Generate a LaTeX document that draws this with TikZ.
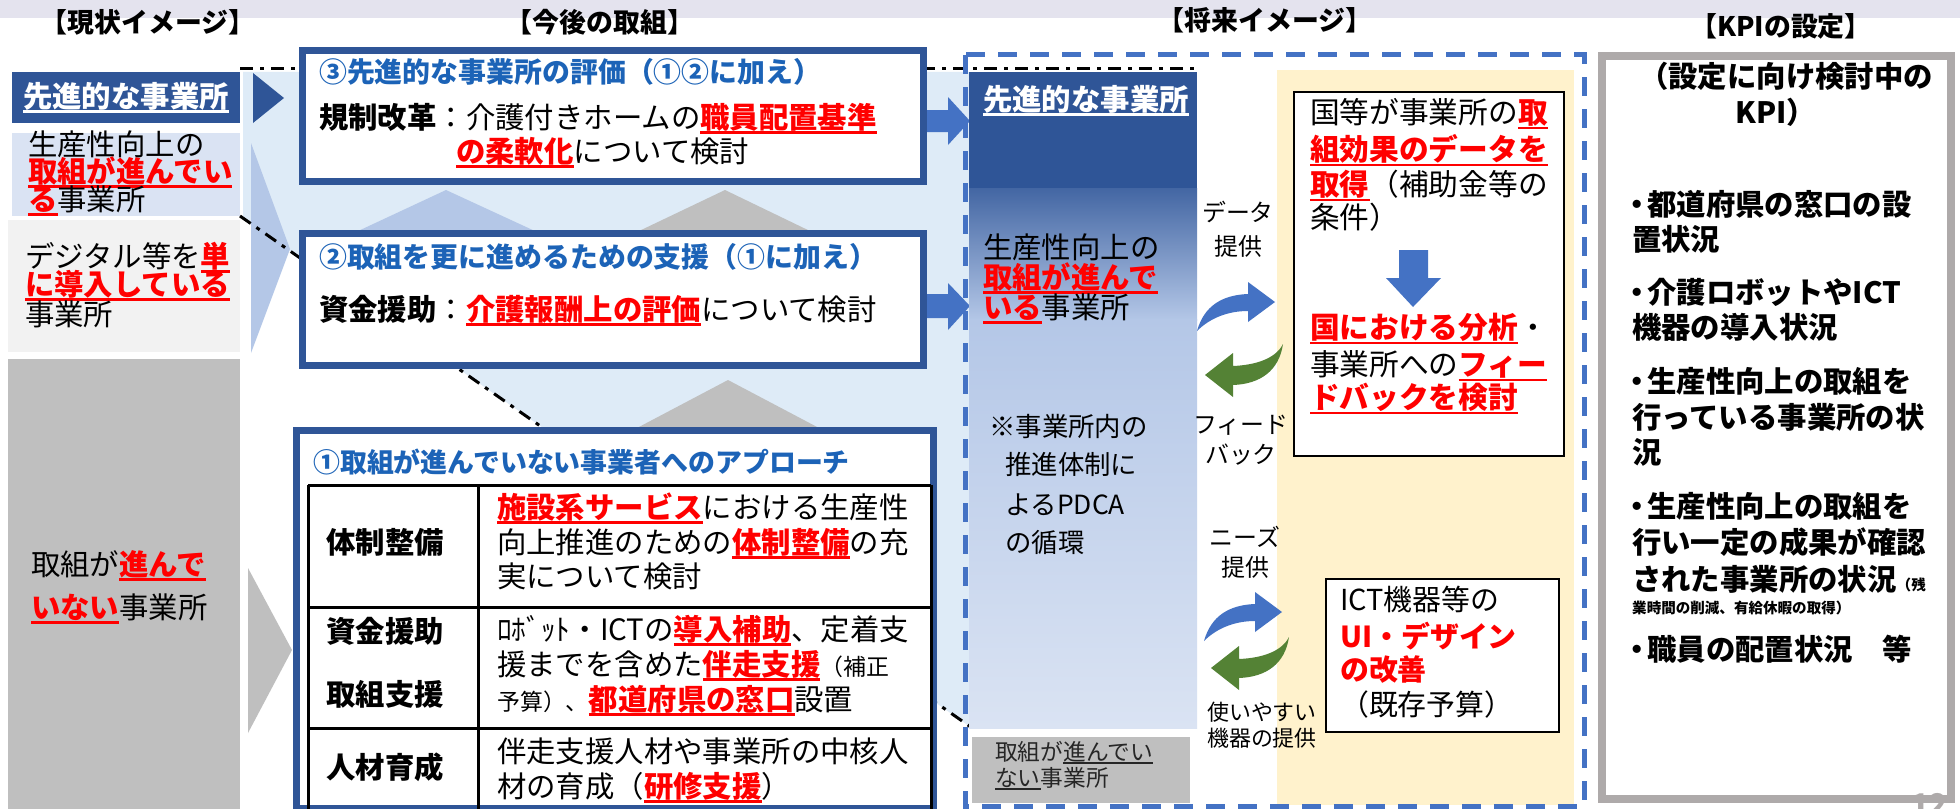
\documentclass[tikz,border=0pt]{standalone}
\usepackage{fontspec}
\setmainfont{Noto Sans CJK JP}
\setsansfont{Noto Sans CJK JP}
\definecolor{dblue}{HTML}{2F5597}
\definecolor{tblue}{HTML}{1C63B7}
\definecolor{kred}{HTML}{FF0000}
\definecolor{pale}{HTML}{DEEBF7}
\definecolor{mblue}{HTML}{B4C7E7}
\definecolor{lblue}{HTML}{DAE3F3}
\definecolor{lgrey}{HTML}{F2F2F2}
\definecolor{mgrey}{HTML}{BFBFBF}
\definecolor{ablue}{HTML}{4472C4}
\definecolor{agreen}{HTML}{548235}
\definecolor{yel}{HTML}{FFF2CC}
\definecolor{kgrey}{HTML}{AEAAAA}
\definecolor{band}{HTML}{E4E3EE}
\definecolor{dtext}{HTML}{262626}
\newcommand\fsz[1]{\fontsize{#1}{#1}\selectfont}
\newcommand\undl[1]{\setbox0=\hbox{#1}\rlap{\rule[-0.17em]{\wd0}{0.085em}}\box0}
\newcommand\ru[1]{{\color{kred}\bfseries\undl{#1}}}
\newcommand\bul{\makebox[20bp][c]{・}}
\begin{document}
\begin{tikzpicture}[x=1bp,y=-1bp,
  tx/.style={inner sep=0pt, anchor=base west, font=\fsz{#1}, yshift={-0.37*#1}},
  tx/.default=29.5,
  txb/.style={tx=#1, font=\bfseries\fsz{#1}},
  txb/.default=29.5,
  ttl/.style={txb=#1, text=tblue},
  ttl/.default=28,
  hdr/.style={txb=27, anchor=base},
  sm/.style={tx=#1, anchor=base},
  sm/.default=24,
  bbox/.style={draw=dblue, line width=7bp, fill=white},
  kbox/.style={draw=black, line width=2.5bp, fill=white},
  dashdot/.style={line width=3bp, dash pattern=on 13bp off 7bp on 4bp off 7bp},
  tbl/.style={line width=3bp}
]
\useasboundingbox (0,0) rectangle (1960,809);
\fill[white] (0,0) rectangle (1960,809);
\fill[band] (0,0) rectangle (1960,18);

% headers
\node[hdr] (h1) at (148,23) {【現状イメージ】};
\node[hdr] (h2) at (600,23) {【今後の取組】};
\node[hdr] (h3) at (1265,21) {【将来イメージ】};
\node[hdr] (h4) at (1781,27) {【KPIの設定】};

% left column
\fill[dblue] (12,72) rectangle (240,123);
\fill[lblue] (12,133) rectangle (240,216);
\fill[lgrey] (8,220) rectangle (240,352);
\fill[mgrey] (8,359) rectangle (240,815);
\node[txb, anchor=base, text=white] (l1) at (126,97) {\undl{先進的な事業所}};
\node[tx] (l2a) at (28,145) {生産性向上の};
\node[tx] (l2b) at (28,172) {\ru{取組が進んでい}};
\node[tx] (l2c) at (28,200) {\ru{る}事業所};
\node[tx] (l3a) at (25,257) {デジタル等を\ru{単}};
\node[tx] (l3b) at (25,285) {\ru{に導入している}};
\node[tx] (l3c) at (25,315) {事業所};
\node[tx] (l4a) at (31,565) {取組が\ru{進んで}};
\node[tx] (l4b) at (31,608) {\ru{いない}事業所};

% pale zone and chevrons
\fill[pale] (243,72) -- (969,72) -- (969,726) -- (243,218) -- cycle;
\fill[dblue] (253,73) -- (284,98) -- (253,123) -- cycle;
\fill[mblue] (251,143) -- (290,249) -- (251,353) -- cycle;
\fill[mgrey] (248,568) -- (292,650) -- (248,733) -- cycle;
\draw[dashdot] (240,69) -- (1200,69);
\draw[dashdot] (240,216) -- (975,730);

% small up triangles
\fill[mblue] (356,232) -- (446,190) -- (537,232) -- cycle;
\fill[mgrey] (637,232) -- (725,190) -- (812,232) -- cycle;
\fill[mgrey] (637,428) -- (728,380) -- (819,428) -- cycle;

% box 3
\draw[bbox] (302.5,50.5) rectangle (923.5,181.5);
\node[ttl] (b3t) at (319,72) {③先進的な事業所の評価（①②に加え）};
\node[tx] (b3a) at (319,118) {{\bfseries 規制改革}：介護付きホームの\ru{職員配置基準}};
\node[tx] (b3b) at (456,152) {\ru{の柔軟化}について検討};

% box 2
\draw[bbox] (302.5,233.5) rectangle (923.5,365.5);
\node[ttl] (b2t) at (319,257) {②取組を更に進めるための支援（①に加え）};
\node[tx] (b2a) at (319,310) {{\bfseries 資金援助}：\ru{介護報酬上の評価}について検討};

% box 1
\draw[bbox] (296.5,430.5) rectangle (933.5,808.5);
\node[ttl=27] (b1t) at (313,463) {①取組が進んでいない事業者へのアプローチ};
\draw[tbl] (308,485) -- (931,485);
\draw[tbl] (308,607) -- (931,607);
\draw[tbl] (308,728) -- (931,728);
\draw[tbl] (308,485) -- (308,815);
\draw[tbl] (478,485) -- (478,815);
\draw[tbl] (931,485) -- (931,815);
\node[txb, anchor=base] (r1l) at (385,543) {体制整備};
\node[txb, anchor=base] (r2l) at (385,632) {資金援助};
\node[txb, anchor=base] (r2m) at (385,695) {取組支援};
\node[txb, anchor=base] (r3l) at (385,768) {人材育成};
\node[tx] (r1a) at (497,508) {\ru{施設系サービス}における生産性};
\node[tx] (r1b) at (497,543) {向上推進のための\ru{体制整備}の充};
\node[tx] (r1c) at (497,577) {実について検討};
\node[tx] (r2a) at (497,630) {ﾛﾎﾞｯﾄ・ICTの\ru{導入補助}、定着支};
\node[tx] (r2b) at (497,665) {援までを含めた\ru{伴走支援}{\fsz{23}（補正}};
\node[tx] (r2c) at (497,700) {{\fsz{23}予算）、}\ru{都道府県の窓口}設置};
\node[tx] (r3a) at (497,752) {伴走支援人材や事業所の中核人};
\node[tx] (r3b) at (497,787) {材の育成（\ru{研修支援}）};

% block arrows to future
\fill[ablue] (927,110) -- (948,110) -- (948,97) -- (970,121) -- (948,145) -- (948,132) -- (927,132) -- cycle;
\fill[ablue] (927,294) -- (948,294) -- (948,283) -- (970,306) -- (948,330) -- (948,318) -- (927,318) -- cycle;

% future image
\fill[yel] (1277,70) rectangle (1574,805);
\fill[dblue] (969,72) rectangle (1197,189);
\shade[top color=dblue!85!mblue, bottom color=mblue] (969,188) rectangle (1197,320);
\shade[top color=mblue, bottom color=lblue] (969,319) rectangle (1197,728);
\fill[mgrey] (972,737) rectangle (1190,803);
\draw[ablue, line width=5bp, dash pattern=on 19bp off 13bp] (965,55) rectangle (1584,806);

\node[txb, text=white] (f1) at (983,100) {\undl{先進的な事業所}};
\node[tx] (f2a) at (983,248) {生産性向上の};
\node[tx] (f2b) at (983,278) {\ru{取組が進んで}};
\node[tx] (f2c) at (983,308) {\ru{いる}事業所};
\node[tx=26.5] (f3a) at (989,427) {※事業所内の};
\node[tx=26.5] (f3b) at (1005,465) {推進体制に};
\node[tx=26.5] (f3c) at (1005,505) {よるPDCA};
\node[tx=26.5] (f3d) at (1005,543) {の循環};
\node[tx=22.8, text=dtext] (f4a) at (995,752) {取組が\undl{進んでい}};
\node[tx=22.8, text=dtext] (f4b) at (995,778) {\undl{ない}事業所};

\node[sm] (d1) at (1238,213) {データ};
\node[sm] (d2) at (1238,247) {提供};
\node[sm] (d3) at (1241,425) {フィード};
\node[sm] (d4) at (1241,455) {バック};
\node[sm] (d5) at (1245,538) {ニーズ};
\node[sm] (d6) at (1245,568) {提供};
\node[sm=22] (d7) at (1262,712) {使いやすい};
\node[sm=22] (d8) at (1262,738) {機器の提供};

% curved arrows
\fill[ablue] (1197,331) .. controls (1204,306) and (1222,295) .. (1248,294) -- (1248,282) -- (1275,302) -- (1248,322) -- (1248,311) .. controls (1228,311) and (1210,318) .. cycle;
\fill[agreen] (1205,375) -- (1233,353) -- (1233,366) .. controls (1257,365) and (1276,358) .. (1283,344) .. controls (1279,371) and (1260,384) .. (1233,385) -- (1233,397) -- cycle;
\begin{scope}[shift={(7,310)}]
\fill[ablue] (1197,331) .. controls (1204,306) and (1222,295) .. (1248,294) -- (1248,282) -- (1275,302) -- (1248,322) -- (1248,311) .. controls (1228,311) and (1210,318) .. cycle;
\end{scope}
\begin{scope}[shift={(6,293)}]
\fill[agreen] (1205,375) -- (1233,353) -- (1233,366) .. controls (1257,365) and (1276,358) .. (1283,344) .. controls (1279,371) and (1260,384) .. (1233,385) -- (1233,397) -- cycle;
\end{scope}

% box data
\draw[kbox] (1294,92) rectangle (1564,456);
\node[tx=29.8] (g1) at (1310,113) {国等が事業所の\ru{取}};
\node[tx=29.8] (g2) at (1310,150) {\ru{組効果のデータを}};
\node[tx=29.8] (g3) at (1310,185) {\ru{取得}（補助金等の};
\node[tx=29.8] (g4) at (1310,218) {条件）};
\fill[ablue] (1399,250) -- (1428,250) -- (1428,278) -- (1441,278) -- (1413,307) -- (1386,278) -- (1399,278) -- cycle;
\node[tx=29.8] (g5) at (1310,328) {\ru{国における分析}・};
\node[tx=29.8] (g6) at (1310,365) {事業所への\ru{フィー}};
\node[tx=29.8] (g7) at (1310,398) {\ru{ドバックを検討}};

% ICT box
\draw[kbox] (1326,579) rectangle (1559,732);
\node[tx=29] (i1) at (1340,600) {ICT機器等の};
\node[txb=29, text=kred] (i2) at (1340,637) {UI・デザイン};
\node[txb=29, text=kred] (i3) at (1340,670) {の改善};
\node[tx=29] (i4) at (1340,705) {（既存予算）};

% KPI box
\draw[kgrey, line width=8bp, fill=white] (1602,56) rectangle (1951,799);
\node[txb, anchor=base] (k0) at (1786,77) {（設定に向け検討中の};
\node[txb, anchor=base] (k0b) at (1776,113) {KPI）};
\node[txb] (k1a) at (1627,205) {\bul 都道府県の窓口の設};
\node[txb] (k1b) at (1632,240) {置状況};
\node[txb] (k2a) at (1627,293) {\bul 介護ロボットやICT};
\node[txb] (k2b) at (1632,328) {機器の導入状況};
\node[txb] (k3a) at (1627,382) {\bul 生産性向上の取組を};
\node[txb] (k3b) at (1632,418) {行っている事業所の状};
\node[txb] (k3c) at (1632,453) {況};
\node[txb] (k4a) at (1627,507) {\bul 生産性向上の取組を};
\node[txb] (k4b) at (1632,543) {行い一定の成果が確認};
\node[txb] (k4c) at (1632,580) {された事業所の状況{\fsz{14.6}（残}};
\node[txb=14.6] (k4d) at (1632,608) {業時間の削減、有給休暇の取得）};
\node[txb] (k5) at (1627,650) {\bul 職員の配置状況　等};
\node[inner sep=0pt, anchor=north west, font=\bfseries\fsz{30}, text=kgrey] (pg) at (1911,793) {12};
\end{tikzpicture}
\end{document}
